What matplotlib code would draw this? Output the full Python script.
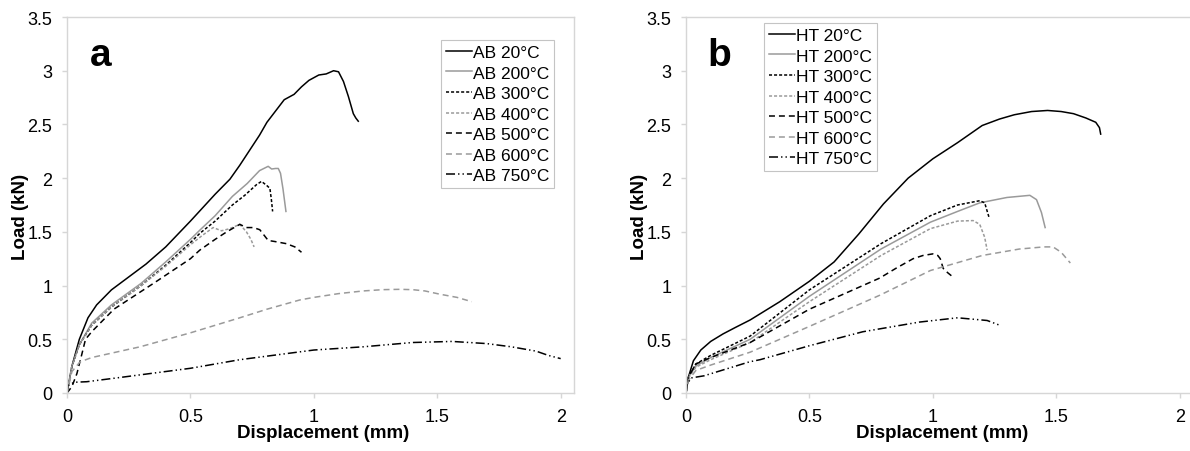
import matplotlib.pyplot as plt

plt.rcParams['font.family'] = ['Liberation Sans', 'DejaVu Sans']

# Panel a : as-built (AB)
ab20_x = [0, 0.02, 0.05, 0.085, 0.12, 0.18, 0.25, 0.32, 0.4, 0.5, 0.54, 0.6, 0.66, 0.7, 0.74, 0.78, 0.81, 0.85,
          0.88, 0.92, 0.95, 0.98, 1.02, 1.05, 1.08, 1.10, 1.12, 1.14, 1.16, 1.17, 1.18]
ab20_y = [0, 0.25, 0.5, 0.7, 0.82, 0.96, 1.08, 1.2, 1.36, 1.6, 1.70, 1.85, 1.99, 2.12, 2.26, 2.4, 2.52, 2.64,
          2.73, 2.78, 2.85, 2.91, 2.96, 2.97, 3.0, 2.99, 2.9, 2.76, 2.6, 2.56, 2.53]
ab200_x = [0, 0.02, 0.05, 0.1, 0.18, 0.3, 0.4, 0.5, 0.54, 0.6, 0.67, 0.73, 0.78, 0.815, 0.829, 0.845, 0.856,
           0.865, 0.875, 0.887]
ab200_y = [0, 0.25, 0.45, 0.65, 0.82, 1.02, 1.22, 1.43, 1.52, 1.65, 1.83, 1.95, 2.07, 2.11, 2.085, 2.09, 2.09,
           2.045, 1.9, 1.69]
ab300_x = [0, 0.02, 0.05, 0.1, 0.18, 0.3, 0.4, 0.5, 0.54, 0.6, 0.67, 0.72, 0.768, 0.788, 0.81, 0.822, 0.828, 0.833]
ab300_y = [0, 0.25, 0.45, 0.63, 0.8, 1.0, 1.19, 1.4, 1.49, 1.6, 1.75, 1.84, 1.94, 1.97, 1.93, 1.905, 1.8, 1.69]
ab400_x = [0, 0.02, 0.05, 0.1, 0.18, 0.3, 0.4, 0.5, 0.55, 0.592, 0.626, 0.66, 0.70, 0.727, 0.745, 0.758]
ab400_y = [0, 0.25, 0.45, 0.63, 0.8, 1.0, 1.18, 1.38, 1.47, 1.54, 1.51, 1.53, 1.57, 1.50, 1.43, 1.36]
ab500_x = [0, 0.02, 0.04, 0.06, 0.075, 0.1, 0.19, 0.35, 0.5, 0.538, 0.6, 0.647, 0.70, 0.727, 0.755, 0.781,
           0.815, 0.842, 0.889, 0.923, 0.95]
ab500_y = [0, 0.06, 0.18, 0.36, 0.5, 0.57, 0.78, 1.02, 1.25, 1.33, 1.43, 1.50, 1.57, 1.54, 1.54, 1.52,
           1.42, 1.41, 1.39, 1.36, 1.31]
ab600_x = [0, 0.02, 0.053, 0.1, 0.296, 0.5, 0.7, 0.81, 0.943, 1.0, 1.1, 1.2, 1.28, 1.348, 1.4, 1.45, 1.51,
           1.58, 1.64]
ab600_y = [0, 0.2, 0.29, 0.33, 0.43, 0.56, 0.7, 0.78, 0.866, 0.89, 0.925, 0.95, 0.962, 0.965, 0.962, 0.95,
           0.92, 0.89, 0.85]
ab750_x = [0, 0.004, 0.03, 0.08, 0.2, 0.3, 0.4, 0.5, 0.7, 0.9, 1.0, 1.2, 1.4, 1.56, 1.7, 1.8, 1.9, 1.95, 2.0]
ab750_y = [0, 0.07, 0.1, 0.105, 0.14, 0.17, 0.2, 0.23, 0.31, 0.37, 0.4, 0.43, 0.47, 0.48, 0.46, 0.43, 0.39,
           0.35, 0.32]

# Panel b : heat treated (HT)
ht20_x = [0, 0.01, 0.03, 0.06, 0.1, 0.15, 0.2, 0.26, 0.38, 0.5, 0.6, 0.7, 0.8, 0.9, 1.0, 1.1, 1.2, 1.27,
          1.33, 1.4, 1.465, 1.52, 1.57, 1.62, 1.66, 1.675, 1.68]
ht20_y = [0, 0.15, 0.3, 0.4, 0.48, 0.55, 0.61, 0.68, 0.85, 1.04, 1.22, 1.48, 1.76, 2.0, 2.18, 2.33, 2.49,
          2.55, 2.59, 2.62, 2.63, 2.62, 2.6, 2.56, 2.52, 2.47, 2.41]
ht200_x = [0, 0.01, 0.04, 0.1, 0.26, 0.5, 0.79, 0.99, 1.1, 1.19, 1.3, 1.393, 1.42, 1.44, 1.455]
ht200_y = [0, 0.15, 0.25, 0.33, 0.50, 0.90, 1.34, 1.59, 1.69, 1.77, 1.82, 1.84, 1.80, 1.68, 1.54]
ht300_x = [0, 0.01, 0.04, 0.1, 0.26, 0.5, 0.79, 0.99, 1.1, 1.19, 1.21, 1.227]
ht300_y = [0, 0.15, 0.27, 0.35, 0.53, 0.96, 1.39, 1.65, 1.75, 1.79, 1.77, 1.64]
ht400_x = [0, 0.01, 0.04, 0.1, 0.26, 0.5, 0.79, 0.99, 1.1, 1.163, 1.19, 1.21, 1.22]
ht400_y = [0, 0.14, 0.24, 0.31, 0.47, 0.85, 1.28, 1.53, 1.6, 1.605, 1.57, 1.45, 1.33]
ht500_x = [0, 0.01, 0.04, 0.1, 0.26, 0.5, 0.785, 0.85, 0.92, 0.96, 1.0, 1.02, 1.03, 1.042, 1.06, 1.076]
ht500_y = [0, 0.15, 0.27, 0.33, 0.47, 0.78, 1.07, 1.16, 1.25, 1.28, 1.295, 1.28, 1.25, 1.16, 1.12, 1.09]
ht600_x = [0, 0.01, 0.04, 0.1, 0.26, 0.5, 0.785, 0.99, 1.2, 1.35, 1.45, 1.487, 1.52, 1.557]
ht600_y = [0, 0.12, 0.21, 0.26, 0.38, 0.62, 0.91, 1.14, 1.28, 1.34, 1.36, 1.36, 1.31, 1.21]
ht750_x = [0, 0.005, 0.02, 0.073, 0.257, 0.3, 0.5, 0.716, 0.945, 1.1, 1.22, 1.266]
ht750_y = [0, 0.08, 0.14, 0.16, 0.29, 0.31, 0.44, 0.57, 0.66, 0.70, 0.675, 0.635]

temperatures = ['20', '200', '300', '400', '500', '600', '750']
ab_curves = [(ab20_x, ab20_y), (ab200_x, ab200_y), (ab300_x, ab300_y), (ab400_x, ab400_y),
             (ab500_x, ab500_y), (ab600_x, ab600_y), (ab750_x, ab750_y)]
ht_curves = [(ht20_x, ht20_y), (ht200_x, ht200_y), (ht300_x, ht300_y), (ht400_x, ht400_y),
             (ht500_x, ht500_y), (ht600_x, ht600_y), (ht750_x, ht750_y)]

# styles: noir / gris, plein / pointillé / tirets / tiret-point-point
gris = '#9a9a9a'
couleurs = ['black', gris, 'black', gris, 'black', gris, 'black']
styles = ['-', '-', (0, (2, 1.3)), (0, (2, 1.3)), (0, (3.9, 2.6)), (0, (3.9, 2.6)),
          (0, (5.9, 2, 0.9, 2, 0.9, 2))]

fig = plt.figure(figsize=(11.9, 4.52), dpi=100)
ax_a = fig.add_axes([67 / 1190, 1 - 394 / 452, 507 / 1190, 376 / 452])
ax_b = fig.add_axes([686 / 1190, 1 - 394 / 452, 507 / 1190, 376 / 452])


def trace_panneau(ax, courbes, prefixe, lettre, legende_pos):
    for (x, y), t, c, ls in zip(courbes, temperatures, couleurs, styles):
        ax.plot(x, y, color=c, linestyle=ls, linewidth=1.1, label=f'{prefixe} {t}°C')

    ax.set_xlim(0, 2.054)
    ax.set_ylim(0, 3.5)
    ax.set_xticks([0, 0.5, 1, 1.5, 2])
    ax.set_xticklabels(['0', '0.5', '1', '1.5', '2'])
    ax.set_yticks([0, 0.5, 1, 1.5, 2, 2.5, 3, 3.5])
    ax.set_yticklabels(['0', '0.5', '1', '1.5', '2', '2.5', '3', '3.5'])
    for s in ax.spines.values():
        s.set_color('#d6d6d6')
        s.set_linewidth(1.0)
    ax.tick_params(axis='both', labelsize=13, colors='#d6d6d6', labelcolor='black', length=3.5, width=1)
    ax.tick_params(axis='y', pad=7)
    ax.tick_params(axis='x', pad=7)

    ax.set_xlabel('Displacement (mm)', fontsize=13.5, fontweight='bold')
    ax.set_ylabel('Load (kN)', fontsize=13.5, fontweight='bold')
    ax.xaxis.set_label_coords(0.505, -0.104)
    ax.xaxis.label.set_va('center')
    ax.yaxis.set_label_coords(-0.092, 0.47)
    ax.yaxis.label.set_va('center')

    ax.text(0.135, 3.15, lettre, fontsize=28, fontweight='bold', ha='center', va='center')

    leg = ax.legend(loc='upper left', bbox_to_anchor=legende_pos, bbox_transform=fig.transFigure,
                    fontsize=12.5, frameon=True, fancybox=False, framealpha=1, edgecolor='#c4c4c4',
                    borderaxespad=0, borderpad=0.28, labelspacing=0.31, handlelength=1.5,
                    handletextpad=0.05)
    leg.get_frame().set_linewidth(0.8)


trace_panneau(ax_a, ab_curves, 'AB', 'a', (441 / 1190, 1 - 41 / 452))
trace_panneau(ax_b, ht_curves, 'HT', 'b', (764 / 1190, 1 - 24 / 452))

fig.savefig('out.png', dpi=100)
